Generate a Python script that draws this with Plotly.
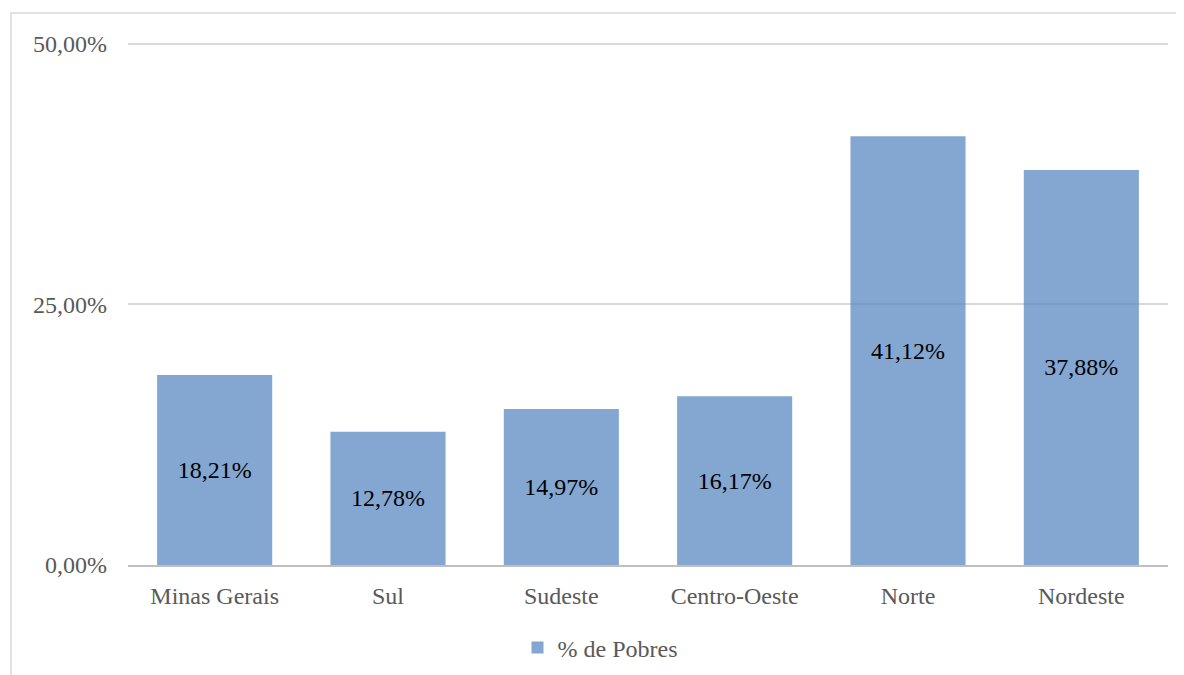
import plotly.graph_objects as go

categories = ["Minas Gerais", "Sul", "Sudeste", "Centro-Oeste", "Norte", "Nordeste"]
values = [0.1821, 0.1278, 0.1497, 0.1617, 0.4112, 0.3788]
series_name = "% de Pobres"
tick_vals = [0, 0.25, 0.5]

FONT = "Liberation Serif"
# page is rendered with an 8px body margin; compensate
W, H = 1176, 667
L, T, R, B = 120, 34, 16, 110
PW = W - L - R
PH = H - T - B

fig = go.Figure()
fig.add_trace(go.Bar(
    x=categories, y=values, name=series_name,
    marker=dict(color="rgba(79,129,189,0.7)", line=dict(width=0)),
    texttemplate="%{y:.2%}", textposition="inside", insidetextanchor="middle",
    textfont=dict(family=FONT, size=24, color="#000000"),
    textangle=0, showlegend=True,
))

fig.update_layout(
    width=W, height=H,
    separators=",.",
    paper_bgcolor="white", plot_bgcolor="white",
    margin=dict(l=L, r=R, t=T, b=B, autoexpand=False),
    bargap=0.336,
    font=dict(family=FONT, size=24, color="#595959"),
    xaxis=dict(showgrid=False, showline=True, linecolor="#BFBFBF", linewidth=2,
               ticks="", ticklabelstandoff=8, tickfont=dict(size=24, color="#595959")),
    yaxis=dict(range=[0, 0.5015], tickvals=tick_vals, tickformat=".2%",
               showgrid=True, gridcolor="#D9D9D9", gridwidth=2,
               zeroline=False, showline=False, ticks="", ticklabelstandoff=20,
               tickfont=dict(size=24, color="#595959")),
    legend=dict(orientation="h", x=(600 - 8 - L) / PW, xanchor="center",
                y=-(648 - 8 - T - PH) / PH, yanchor="middle",
                font=dict(size=24, color="#595959"), itemwidth=30),
    shapes=[dict(type="rect", xref="paper", yref="paper",
                 x0=-(L - 3) / PW, x1=1.2, y0=-0.5, y1=(PH + T - 5) / PH,
                 line=dict(color="#D9D9D9", width=1.5))],
)

fig.write_html("out.html")
